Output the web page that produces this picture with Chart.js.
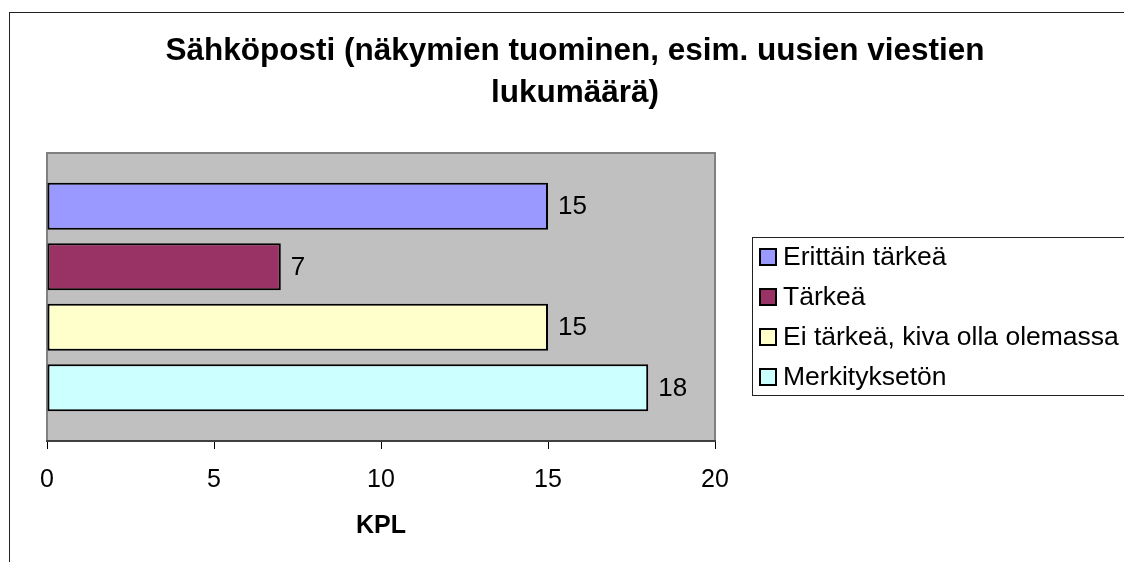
<!DOCTYPE html>
<html>
<head>
<meta charset="utf-8">
<script src="https://cdn.jsdelivr.net/npm/chart.js@4/dist/chart.umd.min.js"></script>
<style>
  html, body { margin: 0; padding: 0; background: #fff; }
  #wrap { width: 1124px; height: 562px; position: relative; }
</style>
</head>
<body>
<div id="wrap"><canvas id="chart" width="1124" height="562"></canvas></div>
<script>
"use strict";

const FONT = "'Liberation Sans', Arial, sans-serif";

const titleLines = ["Sähköposti (näkymien tuominen, esim. uusien viestien", "lukumäärä)"];
const categories = [""];
const seriesNames = ["Erittäin tärkeä", "Tärkeä", "Ei tärkeä, kiva olla olemassa", "Merkityksetön"];
const seriesValues = [15, 7, 15, 18];
const seriesColors = ["#9999ff", "#993366", "#ffffcc", "#ccffff"];
const axisTitle = "KPL";
const xMin = 0, xMax = 20, xStep = 5;

// background, outer frame, grey plot area
const framePlugin = {
  id: "frame",
  beforeDraw(chart) {
    const { ctx, chartArea: a } = chart;
    ctx.save();
    ctx.fillStyle = "#fff";
    ctx.fillRect(0, 0, chart.width, chart.height);
    ctx.strokeStyle = "#222";
    ctx.lineWidth = 1;
    ctx.strokeRect(9.5, 12.5, 3000, 3000);
    ctx.fillStyle = "#c0c0c0";
    ctx.fillRect(a.left, a.top, a.right - a.left, a.bottom - a.top);
    ctx.strokeStyle = "#808080";
    ctx.lineWidth = 2;
    ctx.strokeRect(a.left, a.top, a.right - a.left, a.bottom - a.top);
    ctx.restore();
  },
};

// value labels at the end of each bar
const valueLabels = {
  id: "valueLabels",
  afterDatasetsDraw(chart) {
    const { ctx } = chart;
    ctx.save();
    ctx.fillStyle = "#000";
    ctx.font = "26px " + FONT;
    ctx.textBaseline = "middle";
    ctx.textAlign = "left";
    chart.data.datasets.forEach((ds, i) => {
      chart.getDatasetMeta(i).data.forEach((bar, j) => {
        ctx.fillText(String(ds.data[j]), bar.x + 10, bar.y + 1);
      });
    });
    ctx.restore();
  },
};

// title and boxed legend, Excel style
const decor = {
  id: "decor",
  afterDraw(chart) {
    const { ctx } = chart;
    ctx.save();
    ctx.fillStyle = "#000";
    ctx.textAlign = "center";
    ctx.textBaseline = "middle";
    ctx.font = "bold 31.5px " + FONT;
    titleLines.forEach((t, i) => ctx.fillText(t, 575, 51 + i * 42));

    ctx.strokeStyle = "#222";
    ctx.lineWidth = 1;
    ctx.strokeRect(752.5, 237.5, 1000, 158);
    ctx.font = "26.5px " + FONT;
    ctx.textAlign = "left";
    chart.data.datasets.forEach((ds, i) => {
      const y = 257 + i * 40;
      ctx.fillStyle = ds.backgroundColor;
      ctx.fillRect(760, y - 8, 16, 16);
      ctx.strokeStyle = "#000";
      ctx.lineWidth = 2;
      ctx.strokeRect(760, y - 8, 16, 16);
      ctx.fillStyle = "#000";
      ctx.fillText(ds.label, 783, y + 1);
    });
    ctx.restore();
  },
};

const datasets = seriesNames.map((name, i) => ({
  label: name,
  data: [seriesValues[i]],
  backgroundColor: seriesColors[i],
  borderColor: "#000",
  borderWidth: 2,
  borderSkipped: false,
  categoryPercentage: 0.84,
  barPercentage: 0.78,
}));

new Chart(document.getElementById("chart"), {
  type: "bar",
  data: { labels: categories, datasets },
  options: {
    indexAxis: "y",
    responsive: false,
    animation: false,
    devicePixelRatio: 1,
    layout: { padding: { left: 47, top: 153, right: 409, bottom: 0 } },
    plugins: { legend: { display: false }, tooltip: { enabled: false }, title: { display: false } },
    scales: {
      y: { display: false },
      x: {
        type: "linear",
        min: xMin, max: xMax,
        ticks: { stepSize: xStep, color: "#000", font: { family: FONT, size: 25 }, padding: 16 },
        grid: { drawOnChartArea: false, drawTicks: true, tickLength: 8, color: "#000", lineWidth: 1 },
        border: { display: true, color: "#404040", width: 2 },
        title: {
          display: true, text: axisTitle, color: "#000",
          font: { family: FONT, size: 25, weight: "bold" },
          padding: { top: 0, bottom: 21 },
        },
        afterFit(scale) { scale.height = 121; },
      },
    },
  },
  plugins: [framePlugin, valueLabels, decor],
});
</script>
</body>
</html>
